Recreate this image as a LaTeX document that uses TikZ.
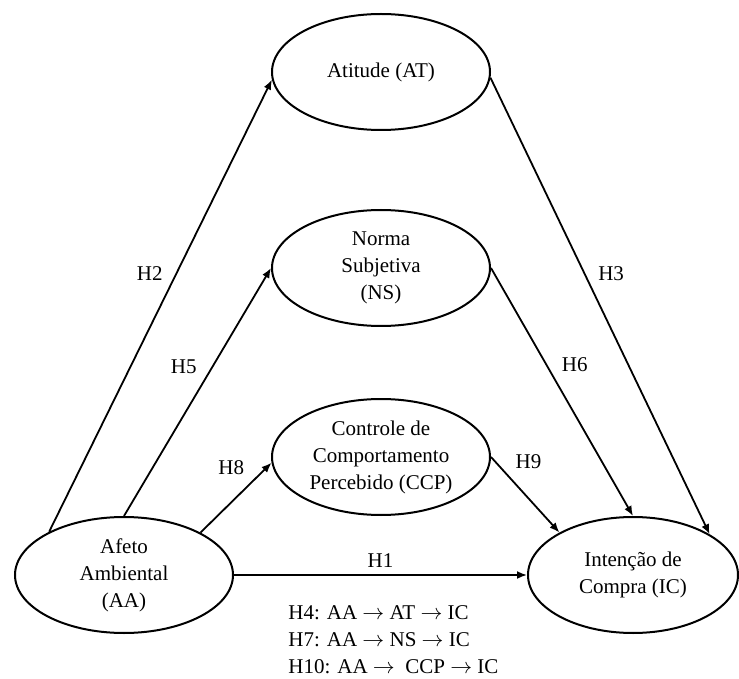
\documentclass[tikz,border=0pt]{standalone}
\usepackage{fontspec}
\setmainfont{Liberation Serif}
\usetikzlibrary{shapes.geometric, arrows.meta}
\begin{document}
\begin{tikzpicture}[x=0.5pt, y=-0.5pt,
		font=\fontsize{10.5}{13.5}\selectfont,
		v/.style={ellipse, draw, line width=1pt, align=center, inner sep=0pt,
			minimum width=109pt, minimum height=58pt},
		a/.style={line width=0.9pt, -{Latex[length=5pt, width=4pt]}}]
	\useasboundingbox (0, 0) rectangle (739, 679);

	\node[v] (at) at (381, 72) {Atitude (AT)};
	\node[v] (ns) at (381, 268) {Norma\\Subjetiva\\(NS)};
	\node[v] (ccp) at (381, 457) {Controle de\\Comportamento\\Percebido (CCP)};
	\node[v] (aa) at (124, 575) {Afeto\\Ambiental\\(AA)};
	\node[v, minimum width=105pt] (ic) at (633, 575) {Intenção de\\Compra (IC)};

	\draw[a] (aa.150) -- node[pos=0.57, left=3pt] {H2} (at.184);
	\draw[a] (aa.north) -- node[pos=0.6, left=4pt] {H5} (ns.west);
	\draw[a] (aa.29) -- node[pos=0.72, above left=0pt] {H8} (ccp.183);
	\draw[a] (aa.east) -- node[above] {H1} (ic.west);
	\draw[a] (at.357) -- node[pos=0.43, right=3pt] {H3} (ic.28);
	\draw[a] (ns.east) -- node[pos=0.39, right=4pt] {H6} (ic.north);
	\draw[a] (ccp.east) -- node[pos=0.25, above right=0pt] {H9} (ic.150);

	\node[anchor=west, align=left, inner sep=0pt] (hyp) at (288, 640)
		{H4: AA $\rightarrow$ AT $\rightarrow$ IC\\
		H7: AA $\rightarrow$ NS $\rightarrow$ IC\\
		H10: AA $\rightarrow$\ \ CCP $\rightarrow$ IC};
\end{tikzpicture}
\end{document}
